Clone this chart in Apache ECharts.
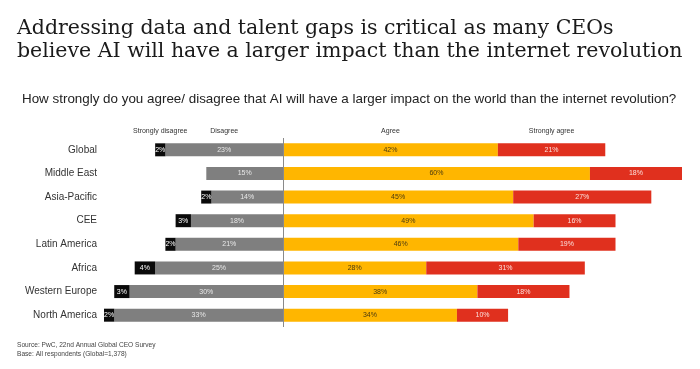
<!DOCTYPE html>
<html><head><meta charset="utf-8">
<script src="https://cdn.jsdelivr.net/npm/echarts/dist/echarts.min.js"></script>
<style>html,body{margin:0;padding:0;background:#fff}#c{width:700px;height:369px}</style>
</head><body><div id="c"></div>
<script>
const categories = ['Global','Middle East','Asia-Pacific','CEE','Latin America','Africa','Western Europe','North America'];
const stronglyDisagree = [2, null, 2, 3, 2, 4, 3, 2];
const disagree = [23, 15, 14, 18, 21, 25, 30, 33];
const agree = [42, 60, 45, 49, 46, 28, 38, 34];
const stronglyAgree = [21, 18, 27, 16, 19, 31, 18, 10];
const seriesNames = ['Strongly disagree', 'Disagree', 'Agree', 'Strongly agree'];

const SANS = 'Liberation Sans, Arial, sans-serif';
const chart = echarts.init(document.getElementById('c'), null, {renderer: 'canvas'});

function mkLabel(color) {
  return {
    show: true, position: 'inside', color: color, fontSize: 7, fontFamily: SANS,
    formatter: p => (p.value == null ? '' : Math.abs(p.value) + '%')
  };
}
const neg = arr => arr.map(v => v == null ? null : -v);

const option = {
  animation: false,
  backgroundColor: '#fff',
  title: [
    {text: 'Addressing data and talent gaps is critical as many CEOs\nbelieve AI will have a larger impact than the internet revolution',
     left: 12, top: 12,
     textStyle: {fontFamily: 'DejaVu Serif, serif', fontSize: 20.5, fontWeight: 'normal', color: '#1a1a1a', lineHeight: 23}},
    {text: 'How strongly do you agree/ disagree that AI will have a larger impact on the world than the internet revolution?',
     left: 17, top: 88,
     textStyle: {fontFamily: SANS, fontSize: 13.4, fontWeight: 'normal', color: '#222'}},
    {text: 'Source: PwC, 22nd Annual Global CEO Survey\nBase: All respondents (Global=1,378)',
     left: 12, top: 336,
     textStyle: {fontFamily: SANS, fontSize: 6.6, fontWeight: 'normal', color: '#444', lineHeight: 9}}
  ],
  grid: {left: 104, top: 138, width: 578, height: 189, containLabel: false},
  xAxis: {type: 'value', min: -35, max: 78, show: false},
  yAxis: {
    type: 'category', data: categories, inverse: true,
    axisLine: {show: false}, axisTick: {show: false}, splitLine: {show: false},
    axisLabel: {fontSize: 10, fontFamily: SANS, color: '#333', margin: 7}
  },
  series: [
    {name: seriesNames[1], type: 'bar', stack: 'total', data: neg(disagree), barWidth: 13,
     itemStyle: {color: '#7f7f7f'}, label: mkLabel('#e8e8e8'),
     markLine: {silent: true, symbol: 'none', label: {show: false},
       lineStyle: {color: '#8a8a8a', width: 1, type: 'solid'}, data: [{xAxis: 0}]}},
    {name: seriesNames[0], type: 'bar', stack: 'total', data: neg(stronglyDisagree), barWidth: 13,
     itemStyle: {color: '#0a0a0a'}, label: mkLabel('#ffffff')},
    {name: seriesNames[2], type: 'bar', stack: 'total', data: agree, barWidth: 13,
     itemStyle: {color: '#ffb600'}, label: mkLabel('#4a3a10')},
    {name: seriesNames[3], type: 'bar', stack: 'total', data: stronglyAgree, barWidth: 13,
     itemStyle: {color: '#e0301e'}, label: mkLabel('#fbe0dc')}
  ]
};
chart.setOption(option);

// Column headers centred above the first row's segments, positioned through the axis scale
const first = 0;
const bounds = [
  [-(disagree[first] + stronglyDisagree[first]), -disagree[first]],
  [-disagree[first], 0],
  [0, agree[first]],
  [agree[first], agree[first] + stronglyAgree[first]]
];
const graphics = bounds.map((b, i) => {
  const x0 = chart.convertToPixel({gridIndex: 0}, [b[0], 0])[0];
  const x1 = chart.convertToPixel({gridIndex: 0}, [b[1], 0])[0];
  return {type: 'text', x: (x0 + x1) / 2, y: 131,
    style: {text: seriesNames[i], fill: '#333', font: '7px ' + SANS, textAlign: 'center', textVerticalAlign: 'middle'}};
});
chart.setOption({graphic: graphics});
</script></body></html>
